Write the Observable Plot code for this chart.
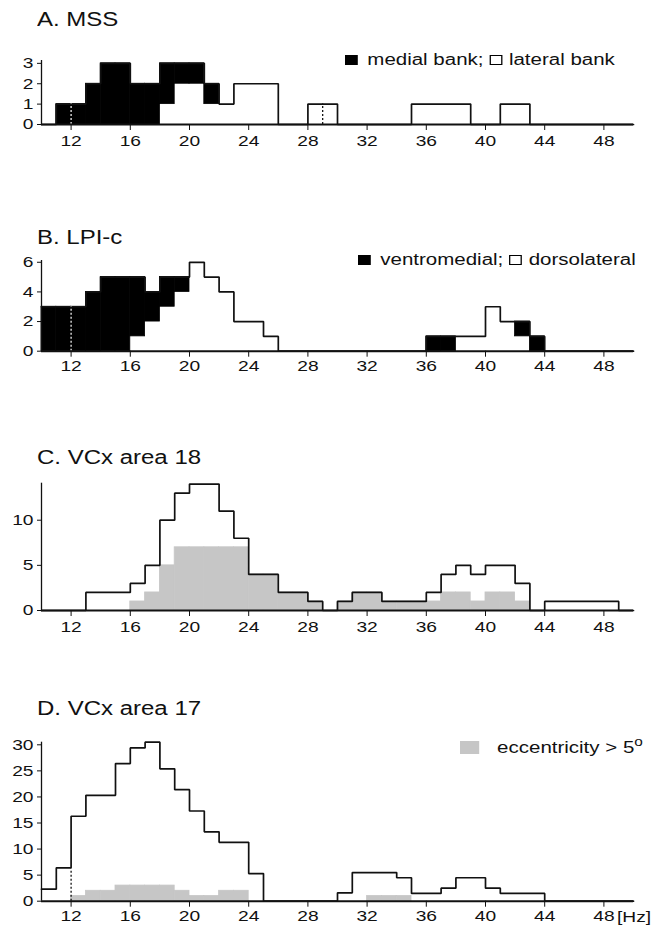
<!DOCTYPE html>
<html>
<head>
<meta charset="utf-8">
<script src="https://cdn.jsdelivr.net/npm/d3@7"></script>
<script src="https://cdn.jsdelivr.net/npm/@observablehq/plot@0.6"></script>
<style>
  html, body { margin: 0; padding: 0; background: #fff; }
  #root { position: relative; width: 657px; height: 928px; overflow: hidden; font-family: "Liberation Sans", Arial, sans-serif; color: #111; }
  .panel { position: absolute; left: 0; }
  .title { position: absolute; font-size: 20px; line-height: 1; white-space: nowrap; transform-origin: left top; transform: scaleX(1.2); }
  .legend { position: absolute; font-size: 16px; line-height: 1; white-space: nowrap; transform-origin: left top; transform: scaleX(1.28); }
  .bsq { display: inline-block; width: 10px; height: 10px; background: #000; vertical-align: 0px; margin-right: 3px; }
  .wsq { display: inline-block; width: 8px; height: 8px; border: 1px solid #000; background: #fff; vertical-align: 0px; margin-right: 1px; }
  .swatch { display: inline-block; width: 15px; height: 13px; background: #c6c6c6; vertical-align: -1px; margin-right: 14px; }
</style>
</head>
<body>
<div id="root"></div>
<script>
// ---------- data (bins of 1 Hz, left edges) ----------
const hz = [10,11,12,13,14,15,16,17,18,19,20,21,22,23,24,25,26,27,28,29,30,31,32,33,34,35,36,37,38,39,40,41,42,43,44,45,46,47,48,49];
const xTicks = [12,16,20,24,28,32,36,40,44,48];

// A. MSS
const mssMedial  = [0,1,1,2,3,3,2,2,2,1,1,1,0,0,0,0,0,0,0,0,0,0,0,0,0,0,0,0,0,0,0,0,0,0,0,0,0,0,0,0];
const mssLateral = [0,0,0,0,0,0,0,0,1,2,2,1,1,2,2,2,0,0,1,1,0,0,0,0,0,1,1,1,1,0,0,1,1,0,0,0,0,0,0,0];
const mssMarkers = [{x: 12, h: 1, c: "#fff"}, {x: 29, h: 1, c: "#000"}];
const mssYTicks = [0,1,2,3];

// B. LPI-c
const lpiVentro = [3,3,3,4,5,5,4,2,2,1,0,0,0,0,0,0,0,0,0,0,0,0,0,0,0,0,1,1,0,0,0,0,1,1,0,0,0,0,0,0];
const lpiDorso  = [0,0,0,0,0,0,1,2,3,4,6,5,4,2,2,1,0,0,0,0,0,0,0,0,0,0,0,0,1,1,3,2,1,0,0,0,0,0,0,0];
const lpiMarkers = [{x: 12, h: 3, c: "#fff"}];
const lpiYTicks = [0,2,4,6];

// C. VCx area 18
const a18All = [0,0,0,2,2,2,3,5,10,13,14,14,11,8,4,4,2,2,1,0,1,2,2,1,1,1,2,4,5,4,5,5,3,0,1,1,1,1,1,0];
const a18Ecc = [0,0,0,0,0,0,1,2,5,7,7,7,7,7,4,4,2,2,1,0,1,2,2,1,1,1,1,2,2,1,2,2,1,0,0,0,0,0,0,0];
const a18YTicks = [0,5,10];

// D. VCx area 17
const a17All = [2.3,6.4,16.3,20.3,20.3,26.4,29.4,30.5,25.4,21.4,17.3,13.3,11.3,11.3,5.3,0,0,0,0,0,1.6,5.5,5.5,5.5,4.5,1.5,1.5,2.5,4.5,4.5,2.5,1.5,1.5,1.5,0,0,0,0,0,0];
const a17Ecc = [0,0,1,2,2,3,3,3,3,2,1,1,2,2,0,0,0,0,0,0,0,0,1,1,1,0,0,0,0,0,0,0,0,0,0,0,0,0,0,0];
const a17Markers = [{x: 12, h: 6.2, c: "#000"}];
const a17YTicks = [0,5,10,15,20,25,30];

const GRAY = "#c6c6c6";
const FONT = "'Liberation Sans', Arial, sans-serif";
const STRETCH = 1.28;

// ---------- helpers ----------
function binRows(vals) {
  return hz.map((h, i) => ({x1: h, x2: h + 1, v: vals[i]}));
}
function stackRows(lower, upper) {
  return hz.map((h, i) => ({x1: h, x2: h + 1, lo: lower[i], hi: lower[i] + upper[i], up: upper[i]}));
}
function stepPoints(vals) {
  const pts = hz.map((h, i) => ({x: h, y: vals[i]}));
  pts.push({x: hz[hz.length - 1] + 1, y: 0});
  return pts;
}
function stretchText(svg) {
  svg.querySelectorAll("text").forEach(t => {
    let tr = t.getAttribute("transform");
    if (!tr) {
      const x = t.getAttribute("x") || 0, y = t.getAttribute("y") || 0;
      t.removeAttribute("x"); t.removeAttribute("y");
      tr = `translate(${x},${y})`;
    }
    t.setAttribute("transform", tr + ` scale(${STRETCH},1)`);
  });
}

function makePanel({top, height, mt, mb, ymax, yTicks, marks, tickPad}) {
  const svg = Plot.plot({
    width: 657,
    height,
    marginLeft: 41,
    marginRight: 24,
    marginTop: mt,
    marginBottom: mb,
    style: {fontFamily: FONT, fontSize: "15px", color: "#111", background: "transparent", overflow: "visible"},
    x: {domain: [10, 50], ticks: xTicks, tickSize: 6, tickPadding: tickPad, tickFormat: "d", label: null},
    y: {domain: [0, ymax], ticks: yTicks, tickSize: 4, tickPadding: 4, tickFormat: "d", label: null},
    marks: [
      ...marks,
      Plot.ruleY([0], {stroke: "#111", strokeWidth: 2}),
      Plot.ruleX([10], {y1: 0, y2: ymax, stroke: "#111", strokeWidth: 1.3})
    ]
  });
  stretchText(svg);
  const div = document.createElement("div");
  div.className = "panel";
  div.style.top = top + "px";
  div.appendChild(svg);
  document.getElementById("root").appendChild(div);
}

function outline(vals) {
  return Plot.line(stepPoints(vals), {x: "x", y: "y", curve: "step-after", stroke: "#111", strokeWidth: 1.7, strokeLinejoin: "miter"});
}
function markers(arr) {
  return Plot.ruleX(arr, {x: "x", y1: 0, y2: "h", stroke: "c", strokeWidth: 1.2, strokeDasharray: "2,2"});
}

// ---------- panels ----------
const mssRows = stackRows(mssLateral, mssMedial);
makePanel({
  top: 50, height: 104, mt: 10, mb: 30, ymax: 3.14, yTicks: mssYTicks, tickPad: 5,
  marks: [
    Plot.rect(mssRows, {x1: "x1", x2: "x2", y1: "lo", y2: "hi", fill: "#000", stroke: "#000", strokeWidth: 0.8, inset: 0, filter: d => d.up > 0}),
    outline(mssMedial.map((v, i) => v + mssLateral[i])),
    markers(mssMarkers)
  ]
});

const lpiRows = stackRows(lpiDorso, lpiVentro);
makePanel({
  top: 250, height: 131, mt: 10, mb: 30.3, ymax: 6.12, yTicks: lpiYTicks, tickPad: 3,
  marks: [
    Plot.rect(lpiRows, {x1: "x1", x2: "x2", y1: "lo", y2: "hi", fill: "#000", stroke: "#000", strokeWidth: 0.8, inset: 0, filter: d => d.up > 0}),
    outline(lpiVentro.map((v, i) => v + lpiDorso[i])),
    markers(lpiMarkers)
  ]
});

makePanel({
  top: 472, height: 168, mt: 10.7, mb: 30, ymax: 14.1, yTicks: a18YTicks, tickPad: 5,
  marks: [
    Plot.rectY(binRows(a18Ecc), {x1: "x1", x2: "x2", y: "v", fill: GRAY, stroke: GRAY, strokeWidth: 0.8, inset: 0, filter: d => d.v > 0}),
    outline(a18All)
  ]
});

makePanel({
  top: 731, height: 197, mt: 10.7, mb: 27.3, ymax: 30.5, yTicks: a17YTicks, tickPad: 3,
  marks: [
    Plot.rectY(binRows(a17Ecc), {x1: "x1", x2: "x2", y: "v", fill: GRAY, stroke: GRAY, strokeWidth: 0.8, inset: 0, filter: d => d.v > 0}),
    outline(a17All),
    markers(a17Markers)
  ]
});

// ---------- titles & legends ----------
const root = document.getElementById("root");
function addText(cls, left, top, html) {
  const d = document.createElement("div");
  d.className = cls;
  d.style.left = left + "px";
  d.style.top = top + "px";
  d.innerHTML = html;
  root.appendChild(d);
}
addText("title", 37, 9, "A. MSS");
addText("title", 37, 227, "B. LPI-c");
addText("title", 37, 447, "C. VCx area 18");
addText("title", 37, 698, "D. VCx area 17");
addText("legend", 345, 52, "<span class='bsq'></span> medial bank; <span class='wsq'></span> lateral bank");
addText("legend", 358, 252, "<span class='bsq'></span> ventromedial; <span class='wsq'></span> dorsolateral");
addText("legend", 460, 740, "<span class='swatch'></span>eccentricity &gt; 5<sup style='font-size:12px;vertical-align:7px;line-height:0'>o</sup>");
addText("legend", 617, 909, "<span style='font-size:15px'>[Hz]</span>");
</script>
</body>
</html>
